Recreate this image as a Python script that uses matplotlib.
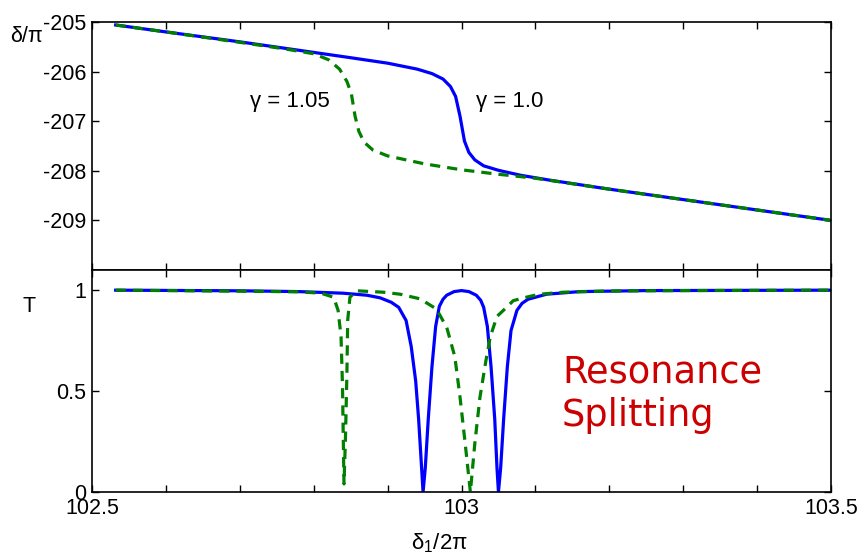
import matplotlib
matplotlib.use("Agg")
import matplotlib.pyplot as plt

plt.rcParams['font.family'] = ['Liberation Sans', 'DejaVu Sans']
plt.rcParams['mathtext.fontset'] = 'custom'
plt.rcParams['mathtext.rm'] = 'Liberation Sans'
plt.rcParams['mathtext.it'] = 'Liberation Sans'
plt.rcParams['axes.unicode_minus'] = False

# phase delta/pi vs delta_1/2pi
x_ph_g10 = [102.532, 102.60, 102.70, 102.78, 102.85, 102.90, 102.94, 102.96, 102.975,
            102.985, 102.992, 102.998, 103.004, 103.010, 103.018, 103.030, 103.050,
            103.080, 103.12, 103.20, 103.30, 103.40, 103.50]
ph_g10 = [-205.06, -205.20, -205.40, -205.57, -205.72, -205.83, -205.95, -206.04, -206.15,
          -206.30, -206.50, -206.90, -207.40, -207.63, -207.78, -207.90, -207.99,
          -208.09, -208.19, -208.37, -208.58, -208.79, -209.00]

x_ph_g105 = [102.532, 102.60, 102.70, 102.76, 102.80, 102.82, 102.835, 102.845, 102.851,
             102.856, 102.861, 102.868, 102.88, 102.90, 102.95, 103.00, 103.05, 103.10,
             103.20, 103.30, 103.40, 103.50]
ph_g105 = [-205.06, -205.20, -205.41, -205.54, -205.64, -205.76, -205.95, -206.20, -206.45,
           -206.90, -207.20, -207.42, -207.58, -207.70, -207.86, -207.98, -208.07, -208.15,
           -208.37, -208.58, -208.79, -209.00]

# transmission T
x_T_g10 = [102.532, 102.70, 102.78, 102.84, 102.872, 102.89, 102.905, 102.915, 102.925,
           102.932, 102.938, 102.942, 102.946, 102.948, 102.951, 102.955, 102.960, 102.965,
           102.970, 102.975, 102.980, 102.990, 103.000, 103.010, 103.020, 103.026, 103.030,
           103.035, 103.040, 103.045, 103.048, 103.050, 103.053, 103.057, 103.062, 103.067,
           103.075, 103.082, 103.090, 103.115, 103.16, 103.25, 103.50]
T_g10 = [1.0, 0.997, 0.993, 0.985, 0.975, 0.962, 0.94, 0.915, 0.85,
         0.72, 0.55, 0.36, 0.12, 0.0, 0.12, 0.36, 0.62, 0.82,
         0.92, 0.955, 0.975, 0.993, 0.998, 0.993, 0.975, 0.95, 0.915,
         0.82, 0.62, 0.36, 0.12, 0.0, 0.12, 0.36, 0.62, 0.80,
         0.90, 0.935, 0.955, 0.98, 0.993, 0.998, 1.0]

x_T_g105 = [102.532, 102.70, 102.78, 102.81, 102.827, 102.833, 102.837, 102.839, 102.840,
            102.841, 102.843, 102.845, 102.846, 102.849, 102.858, 102.894, 102.917, 102.944,
            102.966, 102.980, 102.991, 102.998, 103.005, 103.012, 103.018, 103.025, 103.033,
            103.039, 103.048, 103.061, 103.070, 103.084, 103.097, 103.106, 103.138, 103.20,
            103.30, 103.50]
T_g105 = [1.0, 0.995, 0.992, 0.985, 0.965, 0.90, 0.77, 0.52, 0.27,
          0.04, 0.27, 0.60, 0.85, 0.965, 0.997, 0.99, 0.98, 0.957,
          0.907, 0.816, 0.67, 0.47, 0.24, 0.0, 0.24, 0.47, 0.65,
          0.77, 0.87, 0.915, 0.948, 0.962, 0.973, 0.98, 0.99, 0.996,
          0.998, 1.0]

x_ticks = [102.5, 102.6, 102.7, 102.8, 102.9, 103.0, 103.1, 103.2, 103.3, 103.4, 103.5]
x_ticklabels = ['102.5', '', '', '', '', '103', '', '', '', '', '103.5']
ph_ticks = [-209, -208, -207, -206, -205]
T_ticks = [0, 0.5, 1]
T_ticklabels = ['0', '0.5', '1']

blue = '#0000ff'
green = '#007f00'
dash = (0, (3.2, 2.2))

fig = plt.figure(figsize=(8.63, 5.56), dpi=100)
ax1 = fig.add_axes([92 / 863, 286 / 556, 739 / 863, 248 / 556])
ax2 = fig.add_axes([92 / 863, 64 / 556, 739 / 863, 222 / 556])

for ax in (ax1, ax2):
    ax.set_xlim(102.5, 103.5)
    ax.set_xticks(x_ticks)
    ax.tick_params(direction='in', top=True, right=True, length=5, width=1,
                   labelsize=15.5, pad=4)
    for s in ax.spines.values():
        s.set_linewidth(1.2)

# top panel: phase
ax1.plot(x_ph_g10, ph_g10, color=blue, lw=2.3)
ax1.plot(x_ph_g105, ph_g105, color=green, lw=2.3, ls=dash)
ax1.set_ylim(-210, -205)
ax1.set_yticks(ph_ticks)
ax1.set_xticklabels([])
ax1.text(102.714, -206.6, '\u03b3 = 1.05', fontsize=16, va='center')
ax1.text(103.0195, -206.6, '\u03b3 = 1.0', fontsize=16, va='center')
ax1.set_ylabel('\u03b4/\u03c0', rotation=0, fontsize=15.5)
ax1.yaxis.set_label_coords(-0.088, 0.90)

# bottom panel: transmission
ax2.plot(x_T_g10, T_g10, color=blue, lw=2.3)
ax2.plot(x_T_g105, T_g105, color=green, lw=2.3, ls=dash)
ax2.set_ylim(0, 1.1)
ax2.set_yticks(T_ticks)
ax2.set_yticklabels(T_ticklabels)
ax2.set_xticklabels(x_ticklabels)
ax2.set_ylabel('T', rotation=0, fontsize=15.5)
ax2.yaxis.set_label_coords(-0.085, 0.79)
ax2.set_xlabel(r'$\mathregular{\delta_1/2\pi}$', fontsize=16)
ax2.xaxis.set_label_coords(0.47, -0.178)
ax2.text(103.136, 0.543, 'Resonance', color='#cc0000', fontsize=26.5,
         family='DejaVu Sans', va='baseline')
ax2.text(103.136, 0.326, 'Splitting', color='#cc0000', fontsize=26.5,
         family='DejaVu Sans', va='baseline')

fig.savefig('out.png', dpi=100)
